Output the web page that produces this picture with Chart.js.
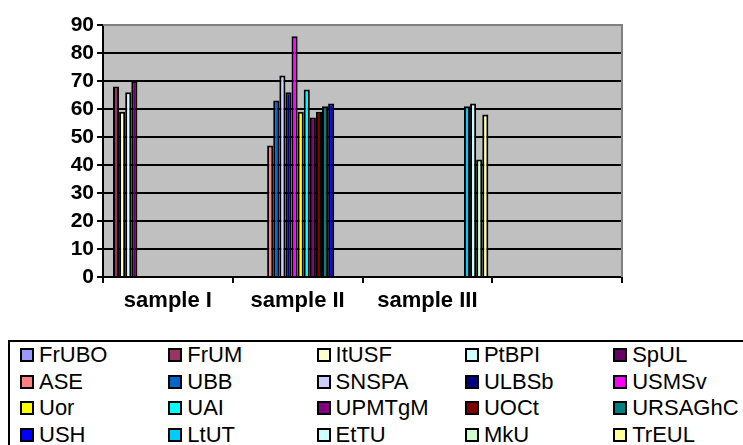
<!DOCTYPE html>
<html>
<head>
<meta charset="utf-8">
<script src="https://cdn.jsdelivr.net/npm/chart.js@4/dist/chart.umd.min.js"></script>
<style>
    body { margin: 0; background: #fff; overflow: hidden; }
    #page { position: relative; width: 743px; height: 445px; overflow: hidden; }
    #chartBox { position: absolute; left: 0; top: 0; width: 743px; height: 330px; }
    #legend {
        position: absolute; left: 8px; top: 340px; width: 760px; height: 120px;
        border: 2px solid #000; border-right: none; box-sizing: border-box;
        display: grid; grid-template-columns: repeat(5, 148.3px); grid-auto-rows: 26.5px;
        padding-left: 10px;
        font-family: "Liberation Sans", Arial, sans-serif; font-size: 22px; color: #000;
    }
    .item { display: flex; align-items: center; white-space: nowrap; }
    .sw { width: 14px; height: 14px; border: 2px solid #000; box-sizing: border-box; margin-right: 5px; flex: none; }
</style>
</head>
<body>
<div id="page">
    <div id="chartBox"><canvas id="chart"></canvas></div>
    <div id="legend"></div>
</div>
<script>
// Categories on the x axis (the 4th slot is empty in the original)
const categories = ['sample I', 'sample II', 'sample III', ''];

// Series, in legend order
const seriesNames = ['FrUBO', 'FrUM', 'ItUSF', 'PtBPI', 'SpUL',
                     'ASE', 'UBB', 'SNSPA', 'ULBSb', 'USMSv',
                     'Uor', 'UAI', 'UPMTgM', 'UOCt', 'URSAGhC',
                     'USH', 'LtUT', 'EtTU', 'MkU', 'TrEUL'];
const seriesColors = ['#9999FF', '#993366', '#FFFFCC', '#CCFFFF', '#660066',
                      '#FF8080', '#0066CC', '#CCCCFF', '#000080', '#FF00FF',
                      '#FFFF00', '#00FFFF', '#800080', '#800000', '#008080',
                      '#0000FF', '#00CCFF', '#CCFFFF', '#CCFFCC', '#FFFF99'];

// Values per category, one entry per series (null = no bar)
const sampleI   = [null, 68, 59, 66, 70, null, null, null, null, null,
                   null, null, null, null, null, null, null, null, null, null];
const sampleII  = [null, null, null, null, null, 47, 63, 72, 66, 86,
                   59, 67, 57, 59, 61, 62, null, null, null, null];
const sampleIII = [null, null, null, null, null, null, null, null, null, null,
                   null, null, null, null, null, null, 61, 62, 42, 58];
const sampleIV  = new Array(20).fill(null);

const yTicks = [0, 10, 20, 30, 40, 50, 60, 70, 80, 90];

const byCategory = [sampleI, sampleII, sampleIII, sampleIV];

const datasets = seriesNames.map((name, i) => ({
    label: name,
    data: byCategory.map(c => c[i]),
    backgroundColor: seriesColors[i],
    borderColor: '#000',
    borderWidth: 2,
    categoryPercentage: 0.94,
    barPercentage: 1.0
}));

// grey plot background plus the grey top / right frame
const plotBg = {
    id: 'plotBg',
    beforeDraw(chart) {
        const { ctx, chartArea: a } = chart;
        ctx.save();
        ctx.fillStyle = '#C0C0C0';
        ctx.fillRect(a.left, a.top, a.right - a.left, a.bottom - a.top);
        ctx.restore();
    },
    beforeDatasetsDraw(chart) {
        const { ctx, chartArea: a } = chart;
        ctx.save();
        ctx.strokeStyle = '#808080';
        ctx.lineWidth = 2;
        ctx.beginPath();
        ctx.moveTo(a.left, a.top);
        ctx.lineTo(a.right, a.top);
        ctx.lineTo(a.right, a.bottom);
        ctx.stroke();
        ctx.restore();
    }
};

const boldFont = { family: '"Liberation Sans", Arial, sans-serif', weight: 'bold' };

new Chart(document.getElementById('chart'), {
    type: 'bar',
    data: { labels: categories, datasets },
    options: {
        responsive: true,
        maintainAspectRatio: false,
        animation: false,
        layout: { padding: { top: 25, right: 121, left: 0, bottom: 0 } },
        plugins: { legend: { display: false }, tooltip: { enabled: false } },
        scales: {
            x: {
                offset: true,
                afterFit(s) { s.height = 53; },
                grid: { display: true, drawOnChartArea: false, offset: true, tickLength: 6, color: '#000', lineWidth: 2 },
                border: { display: true, color: '#000', width: 2 },
                ticks: { color: '#000', padding: 5, maxRotation: 0, font: { ...boldFont, size: 22 } }
            },
            y: {
                min: 0,
                max: 90,
                afterFit(s) { s.width = 103; },
                afterBuildTicks(s) { s.ticks = yTicks.map(v => ({ value: v })); },
                grid: { color: '#000', lineWidth: 2, tickLength: 6 },
                border: { display: true, color: '#000', width: 2 },
                ticks: { color: '#000', padding: 3, autoSkip: false, font: { ...boldFont, size: 21 } }
            }
        }
    },
    plugins: [plotBg]
});

// legend in the 5-column grid of the original
const legend = document.getElementById('legend');
seriesNames.forEach((name, i) => {
    const item = document.createElement('div');
    item.className = 'item';
    item.innerHTML = `<span class="sw" style="background:${seriesColors[i]}"></span><span>${name}</span>`;
    legend.appendChild(item);
});
</script>
</body>
</html>
